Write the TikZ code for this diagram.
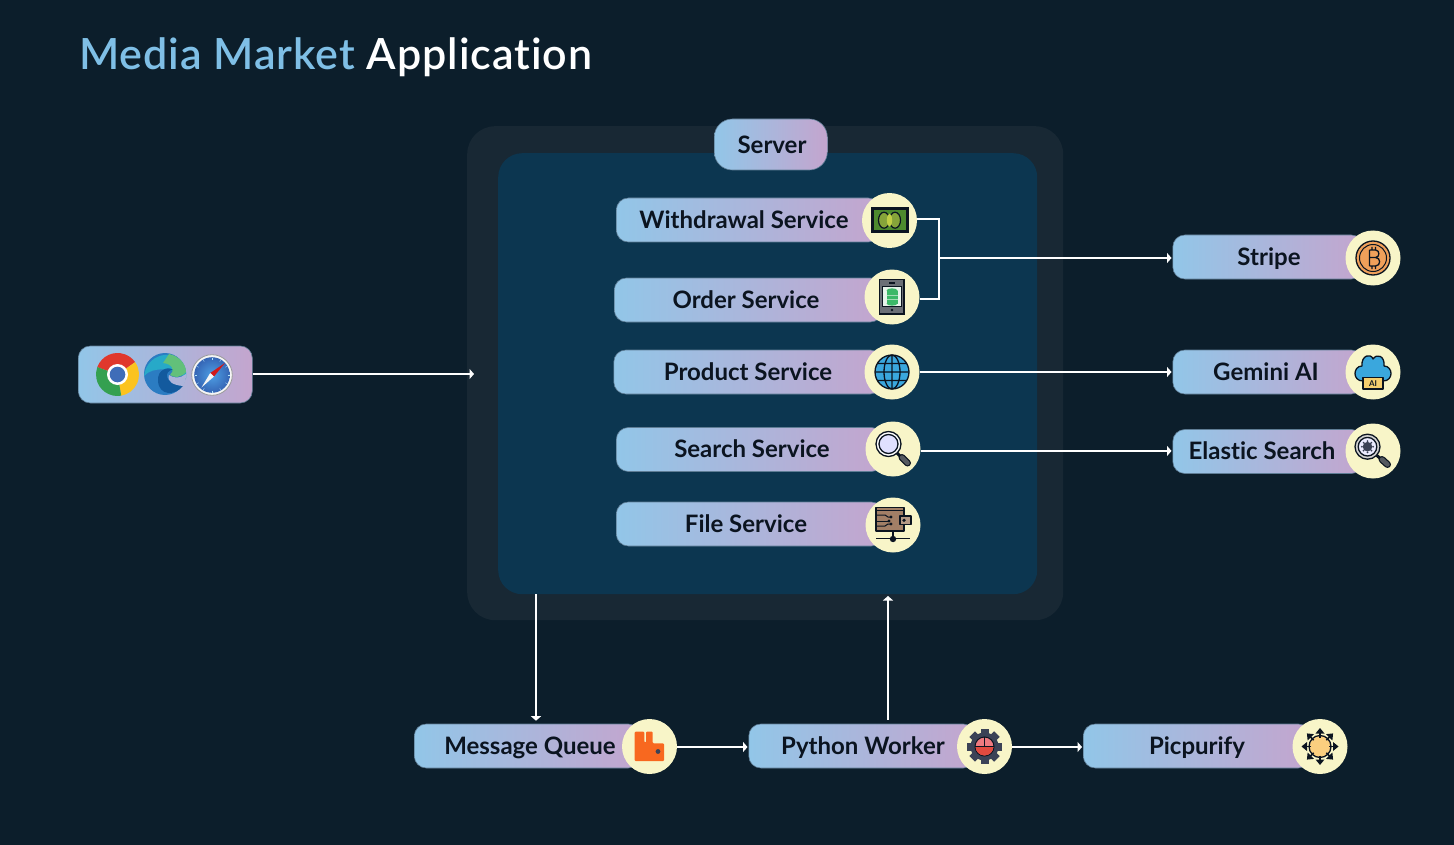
\documentclass[tikz,border=0pt]{standalone}
\usepackage{fontspec}
\setmainfont{Lato}[Ligatures=NoCommon]
\newfontfamily\ttlfont{Lato Semibold}[Ligatures=NoCommon,LetterSpace=2.2]
\usetikzlibrary{arrows.meta,calc}
\definecolor{bgc}{HTML}{0C1E2B}
\definecolor{outerc}{HTML}{182834}
\definecolor{innerc}{HTML}{0C3650}
\definecolor{pl}{HTML}{92C6E8}
\definecolor{pr}{HTML}{C4A5CE}
\definecolor{cream}{HTML}{F8F5C8}
\definecolor{ink}{HTML}{0B1420}
\definecolor{ttl}{HTML}{7FBFE6}
\definecolor{edgeln}{HTML}{5F7D95}
\definecolor{hblue}{HTML}{3AA7DD}
\definecolor{slate}{HTML}{3B4256}
\definecolor{handle}{HTML}{555A60}
\tikzset{
  pill/.style={rounded corners=12pt,left color=pl,right color=pr,draw=edgeln,line width=.6pt,inner sep=0pt,minimum height=44pt,anchor=west},
  disc/.style={circle,fill=cream,inner sep=0pt,minimum size=55pt},
  lbl/.style={text=ink,font=\fontsize{24}{28}\selectfont\bfseries,inner sep=0pt,anchor=base},
  wire/.style={draw=white,line width=2pt,line cap=square},
  awire/.style={wire,line cap=butt,-{Triangle[length=4.5pt,width=10pt]}},
  ik/.style={draw=ink,line width=1.3pt,line join=round},
}
\newcommand{\svc}[7]{% name, x1, x2, y, textx, text, circle (cx,cy) in #7
  \node[pill,minimum width={#3-#2}] (#1p) at (#2,#4) {};
  \node[disc] (#1c) at (#7) {};
  \node[lbl] (#1t) at (#5,#4+8.2) {#6};
}
\begin{document}
\begin{tikzpicture}[x=1pt,y=-1pt]
\useasboundingbox (0,0) rectangle (1454,845);
\fill[bgc] (0,0) rectangle (1454,845);
\node[anchor=base west,inner sep=0pt,font=\fontsize{43}{50}\selectfont\ttlfont] (title) at (79,70) {\textcolor{ttl}{Media Market} \textcolor{white}{Application}};
\node[fill=outerc,rounded corners=28pt,inner sep=0pt,minimum width=596pt,minimum height=494pt,anchor=north west] (outer) at (467,126) {};
\node[fill=innerc,rounded corners=24pt,inner sep=0pt,minimum width=539pt,minimum height=441pt,anchor=north west] (inner) at (498,153) {};
\node[pill,rounded corners=18pt,minimum width=113pt,minimum height=51pt] (server) at (714,144.5) {};
\node[lbl] (servert) at (772,153.5) {Server};

\svc{wd}{616}{880}{220}{744}{Withdrawal Service}{889.5,220.5}
\svc{od}{614}{882}{300}{746}{Order Service}{892,297}
\svc{pr}{613.5}{882}{372}{748}{Product Service}{892,372}
\svc{se}{616}{883}{449.5}{752}{Search Service}{893,449}
\svc{fi}{616}{883}{524}{746}{File Service}{893,525}
\svc{st}{1172.5}{1363}{257}{1269}{Stripe}{1373,258}
\svc{ge}{1172.5}{1363}{372}{1266}{Gemini AI}{1373,372}
\svc{el}{1172.5}{1363}{451.5}{1262}{Elastic Search}{1373,451}
\svc{mq}{414}{640}{746}{530}{Message Queue}{649.5,746.5}
\svc{py}{748.5}{975}{746}{863}{Python Worker}{984.5,746.5}
\svc{pc}{1083}{1310}{746}{1197}{Picpurify}{1320,746.5}
\node[pill,minimum width=174pt,minimum height=57pt] (br) at (78,374.5) {};

% connectors
\coordinate (jt) at (939,258);
\coordinate (srvl) at (474,374);
\coordinate (mqx) at (536,600);
\coordinate (srvb) at (888,596);
\coordinate (row) at (0,747);
\draw[wire] (wdc.4) -| (jt);
\draw[wire] (odc.-5) -| (jt);
\draw[awire,shorten >=1pt] (jt) -- (stp.west |- jt);
\draw[awire,shorten >=1pt] (prc.east) -- (gep.west |- prc.east);
\draw[awire,shorten >=1pt] (sec.-4) -- (elp.west |- sec.-4);
\draw[awire] (br.east |- srvl) -- (srvl);
\draw[awire,shorten >=3pt] (inner.south -| mqx) -- (mqp.north -| mqx);
\draw[awire,shorten <=4pt] (pyp.north -| srvb) -- (srvb);
\draw[awire,shorten >=1pt] (mqc.east |- row) -- (pyp.west |- row);
\draw[awire,shorten >=1pt] (pyc.east |- row) -- (pcp.west |- row);

% browsers
\begin{scope}[shift={(117.5,374.5)}]
\definecolor{cr}{HTML}{E0382C}\definecolor{cy}{HTML}{FBC31F}\definecolor{cg}{HTML}{34A050}\definecolor{cb}{HTML}{3F6DB8}
\fill[cr] (0,0) -- (200:21.5) arc (200:325:21.5) -- cycle;
\fill[cy] (0,0) -- (325:21.5) arc (325:440:21.5) -- cycle;
\fill[cg] (0,0) -- (80:21.5) arc (80:200:21.5) -- cycle;
\fill[white] (0,0) circle (10.5);
\fill[cb] (0,0) circle (7.8);
\end{scope}
\begin{scope}[shift={(165,374)}]
\definecolor{ea}{HTML}{2B7CC2}\definecolor{eb}{HTML}{27A9C8}\definecolor{ec}{HTML}{62C07A}\definecolor{ed}{HTML}{135A9E}
\fill[ea] (0,0) circle (21);
\fill[eb] (-21,2) .. controls (-18,-24) and (18,-27) .. (21,-2) -- (21,4) .. controls (8,-6) and (-12,-8) .. (-21,2) -- cycle;
\fill[ec] (4,-20) .. controls (14,-18) and (21,-10) .. (21,-2) .. controls (16,4) and (9,4) .. (5,1) .. controls (10,-3) and (8,-10) .. (-2,-11) -- cycle;
\fill[ed] (-7,7) .. controls (-8,-5) and (4,-8) .. (8,-4) .. controls (-1,-4) and (-2,10) .. (18,12) .. controls (10,22) and (-6,22) .. (-7,7) -- cycle;
\fill[pr!55!pl] (4,1) .. controls (9,5) and (16,4) .. (21,0) .. controls (21,5) and (20,9) .. (18,12) .. controls (8,11) and (2,8) .. (4,1) -- cycle;
\end{scope}
\begin{scope}[shift={(212,375)}]
\definecolor{sa}{HTML}{4E9FE4}\definecolor{sb}{HTML}{3565B5}
\fill[white!92!gray,draw=gray!80!white,line width=.8pt] (0,0) circle (20.3);
\shade[inner color=sa,outer color=sb] (0,0) circle (17.8);
\foreach \a in {0,30,...,330}{\draw[white!70!cyan,line width=.4pt] (\a:15.5) -- (\a:17.5);}
\fill[red!80!black!90!white] (-1.8,-2) -- (13,-12) -- (2,1.5) -- cycle;
\fill[white!92!gray] (-1.8,-2) -- (-10.5,12.5) -- (2,1.5) -- cycle;
\end{scope}

% money
\begin{scope}[shift={(wdc)}]
\definecolor{ma}{HTML}{4D8A2E}\definecolor{mb}{HTML}{86A43A}\definecolor{mc}{HTML}{C0CE46}
\fill[ink] (-19,-13) rectangle (19,12.5);
\fill[ma] (-16,-10) rectangle (16,9.5);
\draw[ink,line width=1.2pt,fill=mb] (-5.5,-.3) ellipse (5.5 and 8);
\draw[ink,line width=1.2pt,fill=mb] (5.5,-.3) ellipse (5.5 and 8);
\fill[mc] (0,-.3) ellipse (2.6 and 6.5);
\end{scope}
% phone
\begin{scope}[shift={(odc)}]
\definecolor{pa}{HTML}{6B6F76}\definecolor{pb}{HTML}{E7F3EA}\definecolor{pc}{HTML}{3CB868}
\fill[pa,draw=ink,line width=1.2pt] (-12.5,-17.5) rectangle (12,17);
\fill[pb,draw=ink,line width=.8pt] (-10,-11) rectangle (9.5,9);
\fill[ink] (-3,-14.7) rectangle (3,-12.8);
\fill[ink] (0,13) circle (1.4);
\fill[pc] (-5.5,-6.5) rectangle (5.5,6.5);
\fill[pc] (0,-6.5) ellipse (5.5 and 2.2);
\fill[pc] (0,6.5) ellipse (5.5 and 2.2);
\draw[pb!60!pc,line width=.6pt] (-5.5,-2) -- (5.5,-2) (-5.5,2.5) -- (5.5,2.5);
\end{scope}
% globe
\begin{scope}[shift={(prc)}]
\draw[ik,fill=hblue] (0,0) circle (17);
\draw[ik] (0,0) ellipse (8 and 17) (0,-17) -- (0,17) (-17,0) -- (17,0) (-14.5,-8.5) -- (14.5,-8.5) (-14.5,8.5) -- (14.5,8.5);
\end{scope}
% search
\begin{scope}[shift={(sec)}]
\draw[ink,line width=3pt] (3,3) -- (8,8);
\draw[ink,line width=7pt,line cap=round] (9,8.5) -- (14.5,14);
\draw[handle,line width=4.5pt,line cap=round] (9,8.5) -- (14.5,14);
\draw[ik,fill=white] (-4.5,-5) circle (12.5);
\draw[ik,fill=blue!12!white] (-4.5,-5) circle (9.5);
\end{scope}
% wallet
\begin{scope}[shift={(fic)}]
\definecolor{wa}{HTML}{A27F66}
\draw[ik,fill=wa] (-17,-17.5) rectangle (11,6);
\draw[ik] (-17,-14.5) -- (11,-14.5);
\draw[ik,fill=wa!80!white] (7,-9) rectangle (18,-.5);
\fill[ink] (11,-4.7) circle (1.8);
\draw[ink,line width=1pt] (-17,-10) -- (-8,-10) -- (-5,-8) -- (-2,-8);
\draw[ink,line width=1pt] (-17,-4) -- (-4,-4);
\draw[ink,line width=1pt] (-17,1) -- (-8,1) -- (-5,-1) -- (-2,-1);
\fill[ink] (-2,-8) circle (1.6) (-4,-4) circle (1.6) (-2,-1) circle (1.6);
\draw[ink,line width=1.2pt] (-17,13.5) -- (17,13.5) (0,6) -- (0,13.5);
\fill[ink] (0,14) circle (3.2);
\end{scope}
% bitcoin
\begin{scope}[shift={(stc)}]
\definecolor{ba}{HTML}{F0A05A}
\draw[ik,fill=ba] (0,0) circle (17);
\draw[ink,line width=1pt] (0,0) circle (13.5);
\draw[ink,line width=1.3pt,line join=round] (-3.5,-8) -- (2.5,-8) .. controls (7,-8) and (7,-.5) .. (2.5,-.5) -- (-3.5,-.5) (2.5,-.5) .. controls (8,-.5) and (8,8) .. (2.5,8) -- (-3.5,8) (-3.5,-8) -- (-3.5,8) (-1,-11) -- (-1,-8) (2.5,-11) -- (2.5,-8) (-1,8) -- (-1,11) (2.5,8) -- (2.5,11);
\end{scope}
% cloud
\begin{scope}[shift={(gec)}]
\definecolor{ga}{HTML}{F5CE6E}
\draw[ik,fill=hblue] (-10,9) .. controls (-21,9) and (-20,-6) .. (-11,-6) .. controls (-12,-17) and (-2,-19) .. (0,-13) .. controls (4,-19) and (12,-16) .. (11,-6) .. controls (20,-6) and (21,9) .. (10,9) -- cycle;
\draw[ik,fill=ga] (-10,5.5) rectangle (10,17);
\node[font=\fontsize{8}{9}\selectfont\bfseries,text=ink,inner sep=0pt] (aitxt) at (0,11.5) {AI};
\end{scope}
% elastic
\begin{scope}[shift={(elc)}]
\draw[ink,line width=3pt] (2,3) -- (8,8);
\draw[ink,line width=7pt,line cap=round] (9,8.5) -- (14.5,13.5);
\draw[handle,line width=4.5pt,line cap=round] (9,8.5) -- (14.5,13.5);
\draw[ik,fill=gray!35!white] (-5.5,-4.3) circle (12.5);
\draw[ik,fill=white!92!blue] (-5.5,-4.3) circle (9.3);
\fill[slate] (-5.5,-4.3) circle (4.8);
\foreach \a in {0,45,...,315}{\fill[slate] ($(-5.5,-4.3)+(\a:5.6)$) circle (1);}
\end{scope}
% rabbitmq
\begin{scope}[shift={(mqc)}]
\definecolor{ra}{HTML}{F8681F}
\fill[ra,rounded corners=1pt] (-14.8,-14.8) -- (-5.2,-14.8) -- (-5.2,-4) -- (-3.5,-4) -- (-3.5,-14.8) -- (3.2,-14.8) -- (3.2,-3.2) -- (14.5,-3.2) -- (14.5,14.5) -- (-14.8,14.5) -- cycle;
\fill[slate] (8.5,5) circle (2.4);
\end{scope}
% gear
\begin{scope}[shift={(pyc)}]
\definecolor{ya}{HTML}{EE7A80}\definecolor{yb}{HTML}{E14A3F}
\foreach \a in {0,45,...,315}{\fill[rotate=\a,fill=slate] (-4,-17.5) rectangle (4,-11);}
\fill[slate] (0,0) circle (14);
\draw[ink,line width=1pt,fill=ya] (0,0) circle (9.5);
\fill[yb] (-9,0) arc (180:0:9) -- cycle;
\draw[ink,line width=1pt] (0,-9.5) -- (0,0) (-9.5,0) -- (9.5,0);
\end{scope}
% picpurify
\begin{scope}[shift={(pcc)}]
\definecolor{oa}{HTML}{FBCF7F}
\draw[ik,fill=oa] (0,0) circle (11);
\foreach \a in {0,45,...,315}{
  \draw[ink,line width=1.6pt] (\a:9) -- (\a:15);
  \fill[ink] (\a:18.5) -- ($(\a:13)+(\a+90:4.5)$) -- ($(\a:13)+(\a-90:4.5)$) -- cycle;
}
\end{scope}
\end{tikzpicture}
\end{document}
